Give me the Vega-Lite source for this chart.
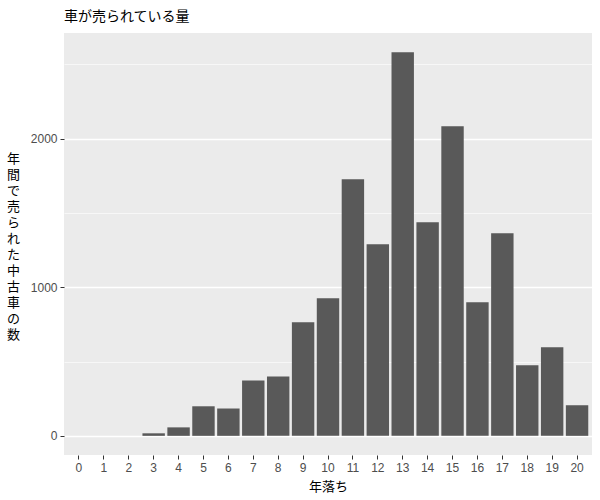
{
  "$schema": "https://vega.github.io/schema/vega-lite/v6.json",
  "autosize": "none",
  "width": 528,
  "height": 422,
  "padding": {"left": 64, "top": 33, "right": 8, "bottom": 45},
  "background": "white",
  "title": {
    "text": "車が売られている量",
    "anchor": "start",
    "frame": "group",
    "font": "Noto Sans CJK JP",
    "fontSize": 14,
    "fontWeight": "normal",
    "color": "black",
    "offset": 9
  },
  "config": {
    "view": {"fill": "#EBEBEB", "stroke": null},
    "axis": {
      "domain": false,
      "gridColor": "white",
      "tickColor": "#333333",
      "tickSize": 4,
      "labelFont": "Liberation Sans",
      "labelFontSize": 12,
      "labelColor": "#4D4D4D",
      "labelPadding": 3,
      "titleFont": "Noto Sans CJK JP",
      "titleFontSize": 13,
      "titleFontWeight": "normal",
      "titleColor": "black"
    }
  },
  "data": {
    "values": [
      {"age": 0, "count": 0},
      {"age": 1, "count": 0},
      {"age": 2, "count": 0},
      {"age": 3, "count": 17},
      {"age": 4, "count": 57},
      {"age": 5, "count": 199},
      {"age": 6, "count": 184},
      {"age": 7, "count": 373},
      {"age": 8, "count": 400},
      {"age": 9, "count": 765},
      {"age": 10, "count": 927},
      {"age": 11, "count": 1728},
      {"age": 12, "count": 1290},
      {"age": 13, "count": 2583},
      {"age": 14, "count": 1438},
      {"age": 15, "count": 2085},
      {"age": 16, "count": 900},
      {"age": 17, "count": 1364},
      {"age": 18, "count": 475},
      {"age": 19, "count": 597},
      {"age": 20, "count": 206}
    ]
  },
  "mark": {"type": "bar", "color": "#595959"},
  "encoding": {
    "x": {
      "field": "age",
      "type": "ordinal",
      "scale": {"paddingInner": 0.1, "paddingOuter": 0.15},
      "axis": {
        "title": "年落ち",
        "labelAngle": 0,
        "bandPosition": 0.5,
        "gridWidth": 1.3,
        "titlePadding": 7
      }
    },
    "y": {
      "field": "count",
      "type": "quantitative",
      "scale": {"domain": [-129, 2712], "nice": false, "zero": false},
      "axis": {
        "values": [0, 500, 1000, 1500, 2000, 2500],
        "format": "d",
        "labelExpr": "datum.value % 1000 === 0 ? datum.label : ''",
        "tickOpacity": {"condition": {"test": "datum.value % 1000 === 0", "value": 1}, "value": 0},
        "gridWidth": {"condition": {"test": "datum.value % 1000 === 0", "value": 1.3}, "value": 0.6},
        "title": ["年", "間", "で", "売", "ら", "れ", "た", "中", "古", "車", " ", "の", "数"],
        "titleAngle": 0,
        "titleAlign": "center",
        "titleBaseline": "middle",
        "titleLineHeight": 16,
        "titleX": -51,
        "titleY": 125
      }
    },
    "y2": {"datum": 0}
  }
}
